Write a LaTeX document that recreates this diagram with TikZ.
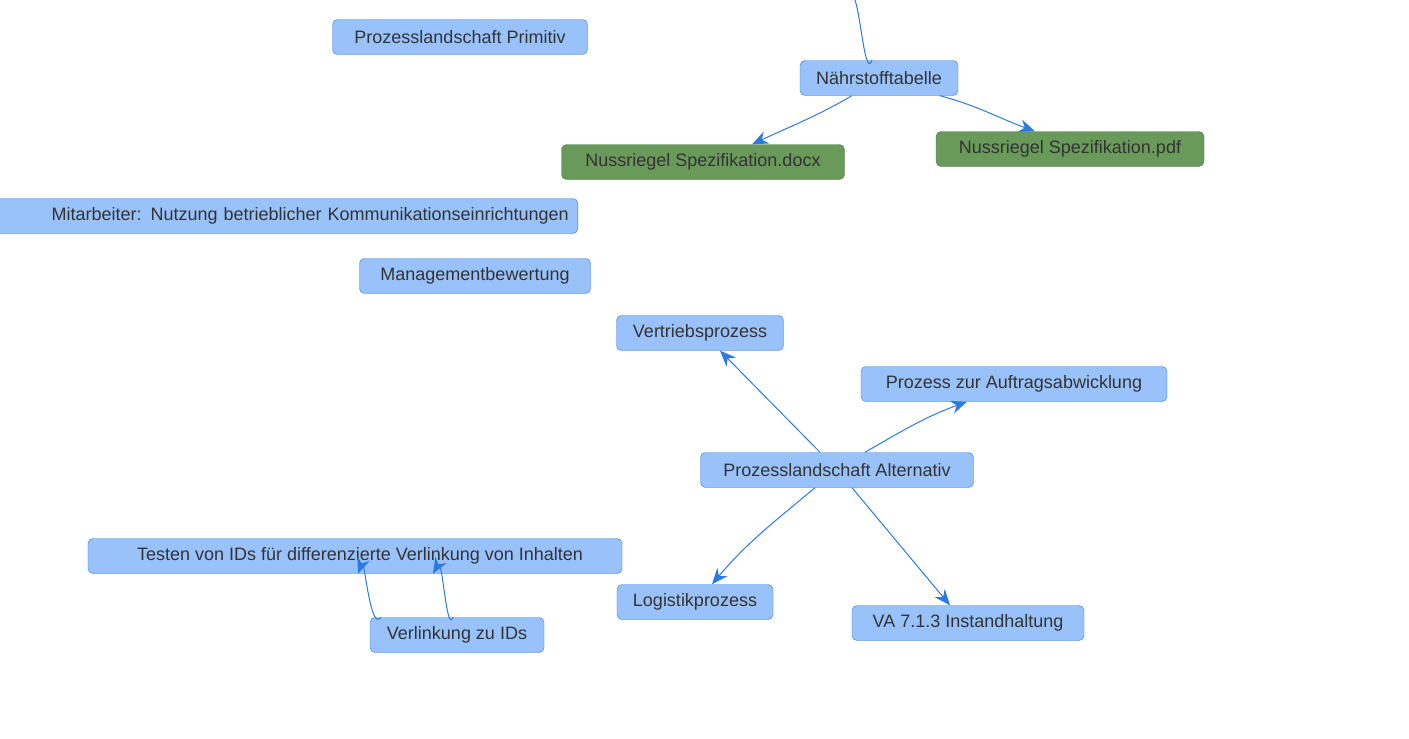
\documentclass[tikz,border=0pt]{standalone}
\usepackage{fontspec}
\setmainfont{Liberation Sans}
\usetikzlibrary{arrows.meta}
\definecolor{bfill}{HTML}{99C2FA}
\definecolor{bdraw}{HTML}{2A7AE2}
\definecolor{gfill}{HTML}{6A9A5A}
\definecolor{gdraw}{HTML}{4A7A3E}
\definecolor{txt}{HTML}{333333}
\begin{document}
\begin{tikzpicture}[x=1pt,y=-1pt,
  box/.style={draw=bdraw,fill=bfill,rounded corners=5pt,minimum height=35pt,inner xsep=0pt,text=txt,font=\fontsize{18}{20}\selectfont},
  gbox/.style={box,draw=gdraw,fill=gfill},
  con/.style={draw=bdraw,line width=1pt},
  arr/.style={con,-{Stealth[length=16pt,width=13pt]}}]
\useasboundingbox (0,0) rectangle (1409,739);
\node[box,minimum width=255pt] (prim) at (460,37) {Prozesslandschaft Primitiv};
\node[box,minimum width=158pt] (naehr) at (879,78) {Nährstofftabelle};
\node[gbox,minimum width=283pt] (docx) at (703,162) {Nussriegel Spezifikation.docx};
\node[gbox,minimum width=268pt] (pdf) at (1070,149) {Nussriegel Spezifikation.pdf};
\node[box,minimum width=600pt,anchor=east,text width=582pt,align=right] (mit) at (578,216) {Mitarbeiter: Nutzung betrieblicher Kommunikationseinrichtungen};
\node[box,minimum width=231pt] (mgmt) at (475,276) {Managementbewertung};
\node[box,minimum width=167pt] (vert) at (700,333) {Vertriebsprozess};
\node[box,minimum width=306pt] (auftr) at (1014,384) {Prozess zur Auftragsabwicklung};
\node[box,minimum width=273pt] (alt) at (837,470) {Prozesslandschaft Alternativ};
\node[box,minimum width=534pt] (test) at (355,556) {\ \ Testen von IDs für differenzierte Verlinkung von Inhalten};
\node[box,minimum width=174pt] (verl) at (457,635) {Verlinkung zu IDs};
\node[box,minimum width=156pt] (log) at (695,602) {Logistikprozess};
\node[box,minimum width=232pt] (va) at (968,623) {VA 7.1.3 Instandhaltung};
\coordinate (top) at (850,0);
\draw[con] (top) to[out=70,in=-110] (naehr.north -| 872,0);
\draw[arr] (naehr.south -| 852,0) to[out=-150,in=25] (docx.north -| 752,0);
\draw[arr] (naehr.south -| 940,0) to[out=-15,in=160] (pdf.north -| 1035,0);
\draw[arr] (alt.north -| 820,0) -- (vert.south -| 720,0);
\draw[arr] (alt.north -| 865,0) to[out=30,in=-160] (auftr.south -| 967,0);
\draw[arr] (alt.south -| 815,0) to[out=-140,in=50] (log.north -| 712,0);
\draw[arr] (alt.south -| 852,0) -- (va.north -| 950,0);
\draw[arr] (verl.north -| 381,0) to[out=-125,in=70] (test.south -| 358,0);
\draw[arr] (verl.north -| 453,0) to[out=-110,in=60] (test.south -| 433,0);
\end{tikzpicture}
\end{document}
